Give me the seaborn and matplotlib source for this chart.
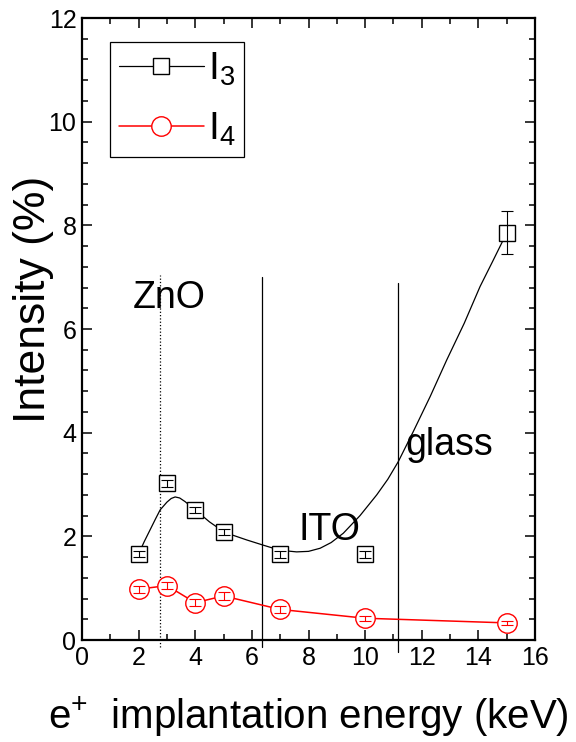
import matplotlib
matplotlib.use("Agg")
import matplotlib.pyplot as plt
import numpy as np
import pandas as pd
import seaborn as sns
from matplotlib.lines import Line2D
from matplotlib.ticker import MultipleLocator

# ---- data ----
energy = [2, 3, 4, 5, 7, 10, 15]
i3 = [1.66, 3.02, 2.51, 2.09, 1.65, 1.65, 7.86]
i3_err = [0.06, 0.06, 0.06, 0.06, 0.06, 0.06, 0.41]
i4 = [0.98, 1.05, 0.72, 0.85, 0.59, 0.42, 0.33]
i4_err = [0.07, 0.07, 0.07, 0.07, 0.07, 0.05, 0.04]

# smooth guide curve through I3
fit_x = [2.0, 2.2, 2.4, 2.6, 2.76, 3.0, 3.15, 3.29, 3.45, 3.64, 4.0, 4.5, 5.0, 5.23,
         5.82, 6.4, 6.76, 7.2, 7.58, 8.0, 8.41, 8.8, 9.23, 9.82, 10.41, 10.8, 11.17,
         11.7, 12.3, 12.88, 13.5, 14.06, 14.5, 14.88, 15.0]
fit_y = [1.66, 1.90, 2.12, 2.34, 2.51, 2.66, 2.73, 2.76, 2.74, 2.67, 2.51, 2.28, 2.09, 2.04,
         1.93, 1.83, 1.77, 1.72, 1.70, 1.71, 1.77, 1.88, 2.06, 2.40, 2.80, 3.10, 3.44,
         4.02, 4.70, 5.40, 6.11, 6.82, 7.30, 7.72, 7.86]

layer_x = [2.76, 6.36, 11.17]
layer_top = [7.04, 7.0, 6.89]
layer_bottom = [-0.14, -0.14, -0.23]
layer_style = [":", "-", "-"]

labels = ["ZnO", "ITO", "glass"]
label_x = [1.8, 7.63, 11.41]
label_y = [6.41, 1.93, 3.57]

sns.set_theme(style="ticks")
plt.rcParams["font.family"] = ["Liberation Sans", "DejaVu Sans"]
plt.rcParams["mathtext.fontset"] = "custom"
plt.rcParams["mathtext.rm"] = "Liberation Sans"
plt.rcParams["mathtext.default"] = "rm"
plt.rcParams["text.color"] = "black"
plt.rcParams["axes.labelcolor"] = "black"

fig = plt.figure(figsize=(5.76, 7.42), dpi=100)
ax = fig.add_axes([82 / 576, 102 / 742, 453 / 576, 622 / 742])

# I3 guide curve
fit_df = pd.DataFrame({"x": fit_x, "y": fit_y})
sns.lineplot(data=fit_df, x="x", y="y", ax=ax, color="black", lw=0.9, sort=False,
             estimator=None, zorder=2)
# I4 connecting line
i4_df = pd.DataFrame({"x": energy, "y": i4})
sns.lineplot(data=i4_df, x="x", y="y", ax=ax, color="red", lw=1.1, sort=False,
             estimator=None, zorder=2)

# markers
ax.plot(energy, i3, ls="none", marker="s", ms=11, mfc="white", mec="black", mew=1.0, zorder=3)
ax.plot(energy, i4, ls="none", marker="o", ms=14, mfc="white", mec="red", mew=1.0, zorder=3)
# error bars drawn above the hollow markers
ax.errorbar(energy, i3, yerr=i3_err, fmt="none", ecolor="black", elinewidth=0.8,
            capsize=4, capthick=0.8, zorder=4)
ax.errorbar(energy, i4, yerr=i4_err, fmt="none", ecolor="red", elinewidth=0.8,
            capsize=4, capthick=0.8, zorder=4)

# layer boundaries
for xv, top, bot, ls in zip(layer_x, layer_top, layer_bottom, layer_style):
    ax.plot([xv, xv], [bot, top], color="black", lw=0.9, ls=ls, clip_on=False, zorder=1)

for t, tx, ty in zip(labels, label_x, label_y):
    ax.text(tx, ty, t, fontsize=27, ha="left", va="baseline", color="black", zorder=5)

ax.set_xlim(0, 16)
ax.set_ylim(0, 12)
ax.xaxis.set_major_locator(MultipleLocator(2))
ax.xaxis.set_minor_locator(MultipleLocator(1))
ax.yaxis.set_major_locator(MultipleLocator(2))
ax.yaxis.set_minor_locator(MultipleLocator(0.4))
ax.tick_params(which="both", direction="in", top=True, right=True, colors="black",
               labelcolor="black", labelsize=18, width=1.1)
ax.tick_params(which="major", length=7, pad=4)
ax.tick_params(which="minor", length=4)
for s in ax.spines.values():
    s.set_linewidth(1.6)
    s.set_color("black")

ax.set_xlabel(r"e$^{+}$  implantation energy (keV)", fontsize=29, labelpad=18, color="black")
ax.set_ylabel("Intensity (%)", fontsize=32, color="black")
ax.yaxis.set_label_coords(-0.062, 0.547)

handles = [
    Line2D([], [], color="black", lw=0.9, marker="s", ms=11, mfc="white", mec="black", mew=1.0),
    Line2D([], [], color="red", lw=1.1, marker="o", ms=14, mfc="white", mec="red", mew=1.0),
]
leg = ax.legend(handles, [r"I$_3$", r"I$_4$"], loc="upper left",
                bbox_to_anchor=(0.062, 0.961), borderaxespad=0, fontsize=28,
                frameon=True, fancybox=False, edgecolor="black", framealpha=1,
                handlelength=2.2, handletextpad=0.1, borderpad=0.22, labelspacing=0.58)
leg.get_frame().set_linewidth(0.9)

fig.savefig("out.png", dpi=100)
